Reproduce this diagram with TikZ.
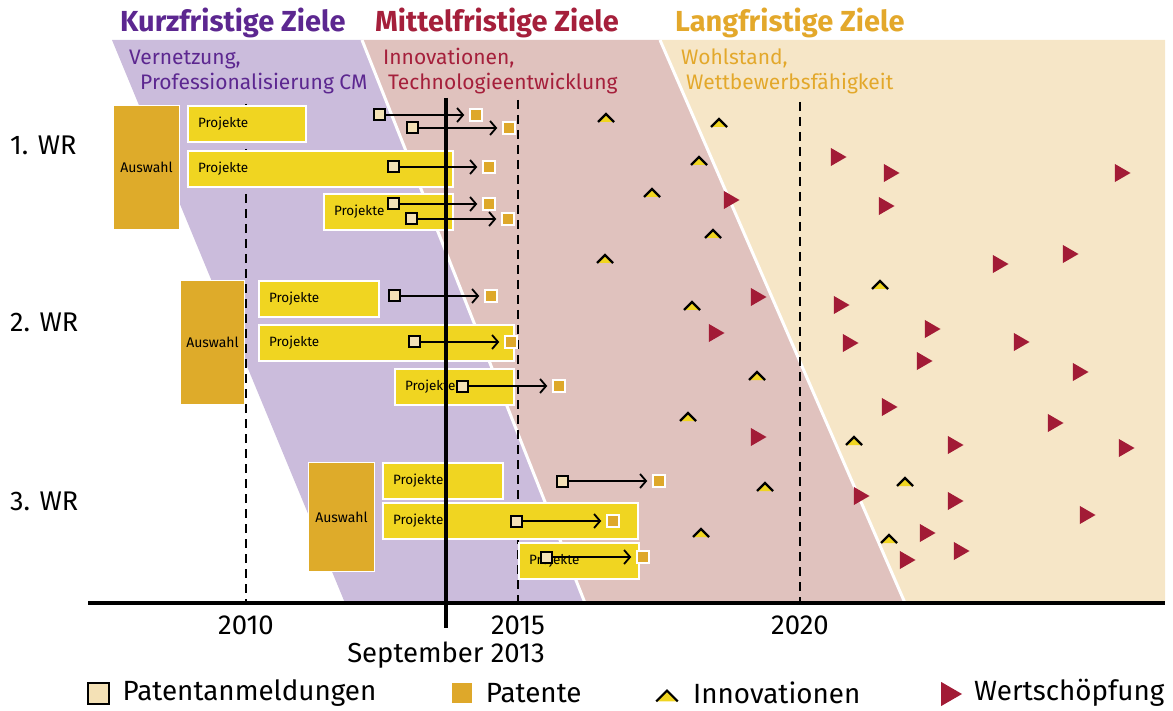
\documentclass[tikz,border=0pt]{standalone}
\usepackage{fontspec}
\setmainfont{Fira Sans}
\usetikzlibrary{positioning,arrows.meta,shapes.geometric}

\definecolor{kurzlila}{HTML}{CBBCDC}
\definecolor{mittelrosa}{HTML}{E0C2BE}
\definecolor{langcreme}{HTML}{F6E6C7}
\definecolor{headlila}{HTML}{5C2790}
\definecolor{headrot}{HTML}{A51F3B}
\definecolor{headgold}{HTML}{E3A82B}
\definecolor{auswahlgold}{HTML}{DEAB2A}
\definecolor{projgelb}{HTML}{F0D521}
\definecolor{anmcreme}{HTML}{F4E1B6}
\definecolor{patgold}{HTML}{DEA82A}
\definecolor{wertrot}{HTML}{A21B36}

\begin{document}
\begin{tikzpicture}[x=1pt, y=-1pt,
  head/.style   ={anchor=base west, inner sep=0pt, font=\fontsize{29}{32}\selectfont\bfseries},
  sub/.style    ={anchor=base west, inner sep=0pt, font=\fontsize{21}{24}\selectfont},
  auswahl/.style={fill=auswahlgold, draw=white, line width=1pt, anchor=north west,
                  inner sep=0pt, font=\fontsize{14}{16}\selectfont},
  proj/.style   ={fill=projgelb, draw=white, line width=2pt, anchor=north west,
                  minimum height=36pt, inner xsep=10pt, inner ysep=0pt, align=left,
                  font=\fontsize{13.5}{15}\selectfont},
  anm/.style    ={rectangle, draw=black, line width=2pt, fill=anmcreme,
                  minimum size=11pt, inner sep=0pt},
  pat/.style    ={rectangle, draw=white, line width=1.5pt, fill=patgold,
                  minimum size=12pt, inner sep=0pt},
  wert/.style   ={regular polygon, regular polygon sides=3, shape border rotate=-90,
                  fill=wertrot, minimum size=21pt, inner sep=0pt},
  innov/.pic    ={\fill[projgelb] (-8,4) -- (0,-4) -- (8,4) -- cycle;
                  \draw[line width=2.2pt] (-8,4) -- (0,-4) -- (8,4);},
  jahr/.style   ={dash pattern=on 9pt off 6pt, line width=1.8pt},
  jahrtext/.style={anchor=base, inner sep=0pt, font=\fontsize{27.5}{30}\selectfont},
  wr/.style     ={anchor=base west, inner sep=0pt, font=\fontsize{27}{30}\selectfont},
  legtext/.style={inner sep=0pt, font=\fontsize{27.8}{30}\selectfont},
  arr/.style    ={-{Straight Barb[length=6pt,width=14pt]}, line width=1.8pt, shorten >=5pt}]

\useasboundingbox (0,0) rectangle (1173,711);

% Zielbereiche
\fill[kurzlila]   (112,40) -- (362,40) -- (585,603) -- (345,603) -- cycle;
\fill[mittelrosa] (362,40) -- (660,40) -- (905,603) -- (585,603) -- cycle;
\fill[langcreme]  (660,40) -- (1165,40) -- (1165,603) -- (905,603) -- cycle;
\draw[white, line width=3pt] (362,40) -- (585,603);
\draw[white, line width=3pt] (660,40) -- (905,603);

\node[head, text=headlila] (kurz)   at (120,32) {Kurzfristige Ziele};
\node[head, text=headrot]  (mittel) at (375,32) {Mittelfristige Ziele};
\node[head, text=headgold] (lang)   at (675,32) {Langfristige Ziele};

\node[sub, text=headlila] (kurz1)   at (129,65) {Vernetzung,};
\node[sub, text=headlila] (kurz2)   at (140,90) {Professionalisierung CM};
\node[sub, text=headrot]  (mittel1) at (383,65) {Innovationen,};
\node[sub, text=headrot]  (mittel2) at (388,90) {Technologieentwicklung};
\node[sub, text=headgold] (lang1)   at (681,65) {Wohlstand,};
\node[sub, text=headgold] (lang2)   at (686,90) {Wettbewerbsfähigkeit};

% Jahreslinien
\draw[jahr] (246,104) -- (246,603);
\draw[jahr] (518,100) -- (518,603);
\draw[jahr] (800,102) -- (800,603);

% 1. WR
\node[wr] (wr1) at (10,155) {1. WR};
\node[auswahl, minimum width=66pt, minimum height=124pt] (aus1) at (113,105) {Auswahl};
\node[proj, minimum width=118pt, text width=98pt]  (proj1a) at (187,105) {Projekte};
\node[proj, minimum width=265pt, text width=245pt] (proj1b) at (187,150) {Projekte};
\node[proj, minimum width=129pt, text width=109pt] (proj1c) at (323,193) {Projekte};

% 2. WR
\node[wr] (wr2) at (10,332) {2. WR};
\node[auswahl, minimum width=64pt, minimum height=124pt] (aus2) at (180,280) {Auswahl};
\node[proj, minimum width=120pt, text width=100pt] (proj2a) at (258,280) {Projekte};
\node[proj, minimum width=255pt, text width=235pt] (proj2b) at (258,324) {Projekte};
\node[proj, minimum width=119pt, text width=99pt]  (proj2c) at (394,368) {Projekte};

% 3. WR
\node[wr] (wr3) at (10,510) {3. WR};
\node[auswahl, minimum width=66pt, minimum height=109pt] (aus3) at (308,462) {Auswahl};
\node[proj, minimum width=120pt, text width=100pt] (proj3a) at (382,462) {Projekte};
\node[proj, minimum width=255pt, text width=235pt] (proj3b) at (382,502) {Projekte};
\node[proj, minimum width=120pt, text width=100pt] (proj3c) at (518,542) {Projekte};

% September 2013
\coordinate (sepO) at (446,98);
\coordinate (sepU) at (446,628);
\draw[line width=3.5pt] (sepO) -- (sepU);

% Patentanmeldungen -> Patente
\node[anm] (anm1) at (379,115) {};  \node[pat] (pat1) at (476,115) {};
\node[anm] (anm2) at (412,128) {};  \node[pat] (pat2) at (509,128) {};
\node[anm] (anm3) at (393,167) {};  \node[pat] (pat3) at (489,167) {};
\node[anm] (anm4) at (393,204) {};  \node[pat] (pat4) at (489,204) {};
\node[anm] (anm5) at (411,219) {};  \node[pat] (pat5) at (508,219) {};
\node[anm] (anm6) at (394,296) {};  \node[pat] (pat6) at (491,296) {};
\node[anm] (anm7) at (414,342) {};  \node[pat] (pat7) at (511,342) {};
\node[anm] (anm8) at (462,386) {};  \node[pat] (pat8) at (559,386) {};
\node[anm] (anm9) at (562,481) {};  \node[pat] (pat9) at (659,481) {};
\node[anm] (anm10) at (516,521) {}; \node[pat] (pat10) at (613,521) {};
\node[anm] (anm11) at (546,557) {}; \node[pat] (pat11) at (643,557) {};

\foreach \i in {1,...,11}
  \draw[arr] (anm\i) -- (pat\i);

% Innovationen
\foreach \x/\y in {606/118, 719/123, 699/161, 652/193, 713/234, 605/259, 880/285,
                   692/306, 757/376, 688/417, 854/441, 765/487, 905/482, 701/533, 889/539}
  \pic at (\x,\y) {innov};

% Wertschoepfung
\foreach \x/\y [count=\i] in {836/157, 889/173, 1120/173, 729/200, 884/206, 1068/254,
                   998/264, 756/297, 839/305, 930/329, 714/333, 848/343, 1019/342,
                   922/361, 1078/372, 887/407, 1053/423, 756/437, 953/445, 1124/448,
                   859/496, 953/501, 1085/515, 925/533, 959/551, 905/560}
  \node[wert] (wert\i) at (\x,\y) {};

% Zeitachse
\coordinate (achseL) at (88,603);
\coordinate (achseR) at (1165,603);
\draw[line width=3.5pt] (achseL) -- (achseR);
\node[jahrtext] (j2010) at (246,634) {2010};
\node[jahrtext] (j2015) at (518,634) {2015};
\node[jahrtext] (j2020) at (800,634) {2020};
\node[jahrtext] (sept)  at (446,662) {September 2013};

% Legende
\node[anm, minimum size=21pt] (legAnm) at (98,693) {};
\node[legtext, right=13pt of legAnm] (legAnmT) {Patentanmeldungen};
\node[pat, draw=none, minimum size=20pt] (legPat) at (462,693) {};
\node[legtext, right=13pt of legPat] (legPatT) {Patente};
\pic[scale=1.35] at (667,696) {innov};
\node[legtext, anchor=west] (legInnT) at (693,693) {Innovationen};
\node[wert, minimum size=28pt] (legWert) at (948,694) {};
\node[legtext, anchor=west] (legWertT) at (974,693) {Wertschöpfung};
\end{tikzpicture}
\end{document}
